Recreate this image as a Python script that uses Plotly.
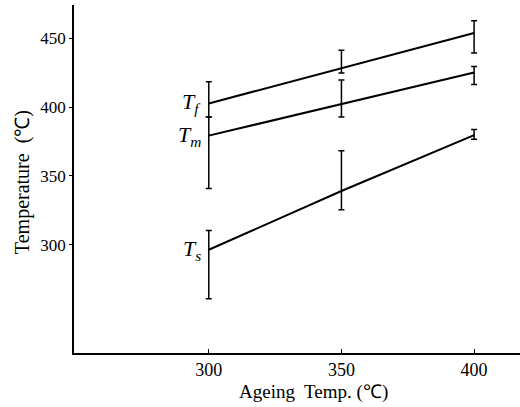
import plotly.graph_objects as go

ageing_temp = [300, 350, 400]
tick_x = [300, 350, 400]
tick_y = [300, 350, 400, 450]

tf_mean = [402.7, 428.1, 453.8]
tf_high = [418.5, 441.4, 462.7]
tf_low = [392.9, 424.8, 439.3]

tm_mean = [379.3, 402.3, 425.2]
tm_high = [392.9, 419.7, 429.6]
tm_low = [340.9, 392.9, 416.5]

ts_mean = [296.4, 339.1, 379.7]
ts_high = [310.4, 368.3, 383.8]
ts_low = [260.9, 325.4, 376.6]

series = [
    ("<i>T<sub>f</sub></i>", tf_mean, tf_high, tf_low),
    ("<i>T<sub>m</sub></i>", tm_mean, tm_high, tm_low),
    ("<i>T<sub>s</sub></i>", ts_mean, ts_high, ts_low),
]

FONT = "Liberation Serif, Times New Roman, serif"

fig = go.Figure()
for name, mean, hi, lo in series:
    fig.add_trace(go.Scatter(
        x=ageing_temp, y=mean, mode="lines", name=name,
        line=dict(color="black", width=2),
        error_y=dict(type="data", symmetric=False,
                     array=[h - m for h, m in zip(hi, mean)],
                     arrayminus=[m - l for m, l in zip(mean, lo)],
                     color="black", thickness=1.5, width=3),
        showlegend=False,
    ))
    fig.add_annotation(x=ageing_temp[0], y=mean[0], text=name, showarrow=False,
                       xanchor="right", yanchor="middle", xshift=-6,
                       font=dict(family=FONT, size=22, color="black"))

fig.add_annotation(x=0.536, y=-0.112, xref="paper", yref="paper",
                   text="Ageing  Temp. (℃)", showarrow=False,
                   xanchor="center", yanchor="middle",
                   font=dict(family=FONT, size=19, color="black"))
fig.add_annotation(x=-0.1166, y=0.491, xref="paper", yref="paper",
                   text="Temperature  (℃)", showarrow=False, textangle=-90,
                   xanchor="center", yanchor="middle",
                   font=dict(family=FONT, size=20, color="black"))

fig.update_layout(
    width=520, height=407,
    margin=dict(l=74, r=0, t=5, b=54),
    paper_bgcolor="white", plot_bgcolor="white",
    font=dict(family=FONT, color="black"),
)
fig.update_xaxes(range=[249.2, 417.3], tickvals=tick_x, ticks="inside", ticklen=4,
                 tickcolor="black", showline=True, linecolor="black", linewidth=1.5,
                 showgrid=False, zeroline=False, tickfont=dict(size=18), automargin=False)
fig.update_yaxes(range=[221.4, 474.2], tickvals=tick_y, ticks="outside", ticklen=3,
                 tickcolor="black", showline=True, linecolor="black", linewidth=1.5,
                 showgrid=False, zeroline=False, tickfont=dict(size=17), automargin=False)

fig.write_html("out.html", config={"displayModeBar": False},
               post_script="document.body.style.margin='0';document.body.style.overflow='hidden';")
